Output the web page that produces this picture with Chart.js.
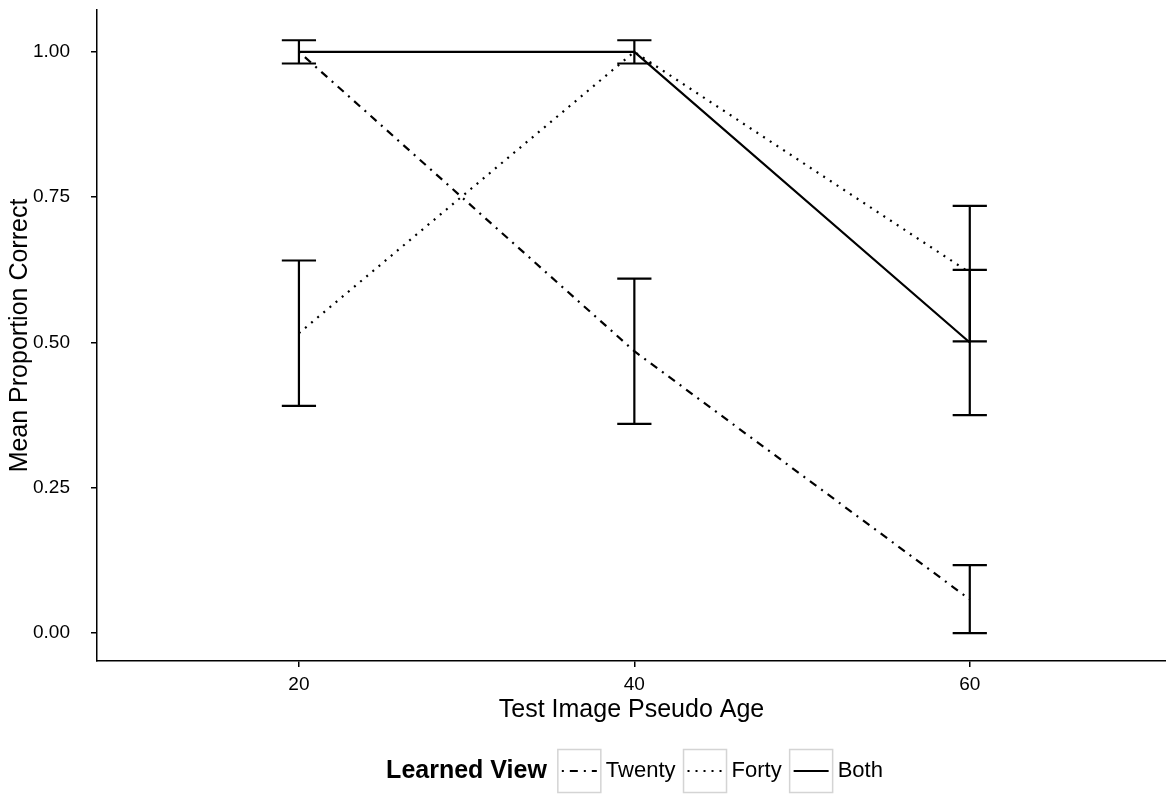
<!DOCTYPE html>
<html>
<head>
<meta charset="utf-8">
<script src="https://cdn.jsdelivr.net/npm/chart.js@4/dist/chart.umd.min.js"></script>
<style>
  html, body { margin: 0; padding: 0; background: #fff; }
  #wrap { width: 1166px; height: 794px; }
</style>
</head>
<body>
<div id="wrap"><canvas id="chart" width="1166" height="794"></canvas></div>
<script>
// test image pseudo age
const ages = [20, 40, 60];
const yTicks = [0, 0.25, 0.5, 0.75, 1];

const seriesNames = ['Twenty', 'Forty', 'Both'];
const twentyMean = [1.0, 0.485, 0.058];
const twentyLo   = [null, 0.36, 0.0];
const twentyHi   = [null, 0.61, 0.117];
const fortyMean  = [0.516, 1.0, 0.62];
const fortyLo    = [0.391, null, 0.502];
const fortyHi    = [0.641, null, 0.735];
const bothMean   = [1.0, 1.0, 0.5];
const bothLo     = [0.98, 0.98, 0.375];
const bothHi     = [1.02, 1.02, 0.625];

const dashes = [[2, 6, 8, 6], [2, 6], []];
const FONT = '"Liberation Sans", Arial, Helvetica, sans-serif';

function pts(means) {
    return ages.map((a, i) => ({ x: a, y: means[i] }));
}

const errBars = [
    { lo: twentyLo, hi: twentyHi },
    { lo: fortyLo, hi: fortyHi },
    { lo: bothLo, hi: bothHi }
];

// draws the error bars off the scales
const errorBarPlugin = {
    id: 'errorBars',
    afterDatasetsDraw(chart) {
        const ctx = chart.ctx;
        const xs = chart.scales.x, ys = chart.scales.y;
        const capHalf = 1.02; // in age units
        ctx.save();
        ctx.strokeStyle = '#000';
        ctx.lineWidth = 2.2;
        ctx.setLineDash([]);
        errBars.forEach(eb => {
            ages.forEach((a, i) => {
                if (eb.lo[i] == null || eb.hi[i] == null) return;
                const x = xs.getPixelForValue(a);
                const x0 = xs.getPixelForValue(a - capHalf);
                const x1 = xs.getPixelForValue(a + capHalf);
                const yl = ys.getPixelForValue(eb.lo[i]);
                const yh = ys.getPixelForValue(eb.hi[i]);
                ctx.beginPath();
                ctx.moveTo(x, yl); ctx.lineTo(x, yh);
                ctx.moveTo(x0, yl); ctx.lineTo(x1, yl);
                ctx.moveTo(x0, yh); ctx.lineTo(x1, yh);
                ctx.stroke();
            });
        });
        ctx.restore();
    }
};

// ggplot-style legend under the plot
const legendPlugin = {
    id: 'bottomLegend',
    afterDraw(chart) {
        const ctx = chart.ctx;
        const cy = 771;
        const box = 43;
        ctx.save();
        ctx.textBaseline = 'middle';
        ctx.font = 'bold 25px ' + FONT;
        const titleW = ctx.measureText('Learned View').width;
        ctx.font = '22px ' + FONT;
        const labelW = seriesNames.map(n => ctx.measureText(n).width);
        let total = titleW + 11;
        labelW.forEach((w, i) => { total += box + 5 + w + (i < labelW.length - 1 ? 8 : 0); });
        let x = (chart.chartArea.left + chart.chartArea.right) / 2 - total / 2 + 3;

        ctx.fillStyle = '#000';
        ctx.font = 'bold 25px ' + FONT;
        ctx.textAlign = 'left';
        ctx.fillText('Learned View', x, cy);
        x += titleW + 11;

        seriesNames.forEach((n, i) => {
            ctx.strokeStyle = '#d4d4d4';
            ctx.lineWidth = 1.5;
            ctx.setLineDash([]);
            ctx.strokeRect(x, cy - box / 2, box, box);
            ctx.strokeStyle = '#000';
            ctx.lineWidth = 2.2;
            ctx.setLineDash(dashes[i]);
            ctx.beginPath();
            ctx.moveTo(x + 4, cy);
            ctx.lineTo(x + box - 4, cy);
            ctx.stroke();
            ctx.setLineDash([]);
            x += box + 5;
            ctx.font = '22px ' + FONT;
            ctx.fillStyle = '#000';
            ctx.fillText(n, x, cy);
            x += labelW[i] + 8;
        });
        ctx.restore();
    }
};

const datasets = [twentyMean, fortyMean, bothMean].map((m, i) => ({
    label: seriesNames[i],
    data: pts(m),
    borderColor: '#000',
    backgroundColor: '#000',
    borderWidth: 2.2,
    borderDash: dashes[i],
    borderCapStyle: 'butt',
    pointRadius: 0,
    pointHoverRadius: 0,
    tension: 0,
    fill: false
}));

// pin the plot box to the reference: no label overhang padding
function noPad(s) {
    s.paddingTop = 0; s.paddingBottom = 0;
    s.paddingLeft = 0; s.paddingRight = 0;
}

new Chart(document.getElementById('chart'), {
    type: 'line',
    data: { datasets: datasets },
    options: {
        responsive: false,
        animation: false,
        devicePixelRatio: 1,
        layout: { padding: { top: 10, right: 0, left: 0, bottom: 0 } },
        plugins: {
            legend: { display: false },
            tooltip: { enabled: false }
        },
        scales: {
            x: {
                type: 'linear',
                min: 7.96,
                max: 71.7,
                afterBuildTicks: s => { s.ticks = ages.map(v => ({ value: v })); },
                afterFit: s => { s.height = 133; noPad(s); },
                grid: { drawOnChartArea: false, drawTicks: true, tickLength: 6, color: '#000', lineWidth: 1.5 },
                border: { display: true, color: '#000', width: 1.5 },
                ticks: { color: '#000', padding: 6, font: { family: FONT, size: 19 }, maxRotation: 0 },
                title: {
                    display: true, text: 'Test Image Pseudo Age', color: '#000',
                    font: { family: FONT, size: 25 }, padding: { top: 0, bottom: 69 }
                }
            },
            y: {
                type: 'linear',
                min: -0.048,
                max: 1.072,
                afterBuildTicks: s => { s.ticks = yTicks.map(v => ({ value: v })); },
                afterFit: s => { s.width = 97; noPad(s); },
                grid: { drawOnChartArea: false, drawTicks: true, tickLength: 6, color: '#000', lineWidth: 1.5 },
                border: { display: true, color: '#000', width: 1.5 },
                ticks: {
                    color: '#000', padding: 21, font: { family: FONT, size: 19 },
                    callback: v => Number(v).toFixed(2)
                },
                title: {
                    display: true, text: 'Mean Proportion Correct', color: '#000',
                    font: { family: FONT, size: 25 }, padding: { top: 5, bottom: 0 }
                }
            }
        }
    },
    plugins: [errorBarPlugin, legendPlugin]
});
</script>
</body>
</html>
